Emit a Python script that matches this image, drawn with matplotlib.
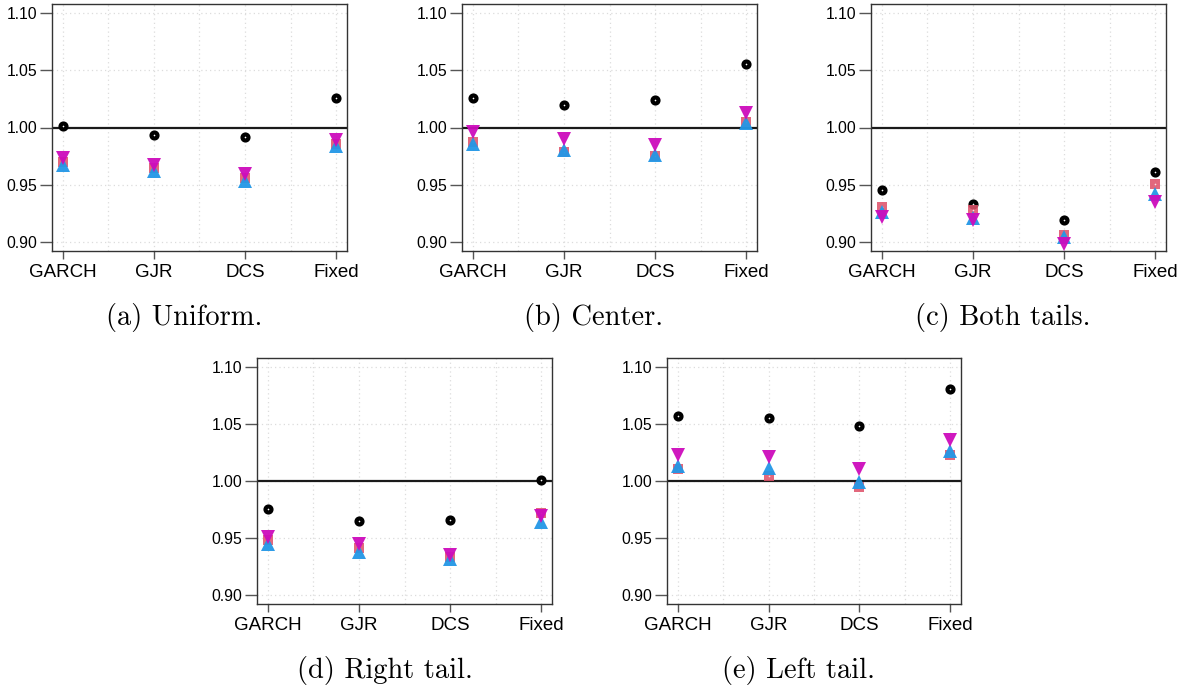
import matplotlib
matplotlib.use("Agg")
import matplotlib.pyplot as plt

W, H = 1186, 690

models = ["GARCH", "GJR", "DCS", "Fixed"]
captions = ["(a) Uniform.", "(b) Center.", "(c) Both tails.", "(d) Right tail.", "(e) Left tail."]

# relative ratio per model, one list per estimator
uniform_black = [1.001, 0.9935, 0.992, 1.026]
uniform_red = [0.970, 0.965, 0.956, 0.986]
uniform_blue = [0.9675, 0.962, 0.953, 0.9835]
uniform_magenta = [0.973, 0.9675, 0.959, 0.989]

center_black = [1.026, 1.020, 1.024, 1.0555]
center_red = [0.987, 0.979, 0.9755, 1.0045]
center_blue = [0.986, 0.980, 0.976, 1.004]
center_magenta = [0.996, 0.990, 0.985, 1.0127]

both_black = [0.945, 0.9335, 0.9195, 0.961]
both_red = [0.9306, 0.9277, 0.906, 0.951]
both_blue = [0.926, 0.921, 0.9044, 0.942]
both_magenta = [0.922, 0.919, 0.8985, 0.935]

right_black = [0.9753, 0.9648, 0.9657, 1.0013]
right_red = [0.948, 0.941, 0.933, 0.9715]
right_blue = [0.9444, 0.9377, 0.9312, 0.964]
right_magenta = [0.9508, 0.9444, 0.935, 0.969]

left_black = [1.0574, 1.0556, 1.0483, 1.0807]
left_red = [1.0107, 1.0042, 0.9946, 1.023]
left_blue = [1.013, 1.011, 0.999, 1.026]
left_magenta = [1.0226, 1.0209, 1.0107, 1.0358]

panels = [
    (uniform_black, uniform_red, uniform_blue, uniform_magenta),
    (center_black, center_red, center_blue, center_magenta),
    (both_black, both_red, both_blue, both_magenta),
    (right_black, right_red, right_blue, right_magenta),
    (left_black, left_red, left_blue, left_magenta),
]

# axes boxes in pixels: left, top, right, bottom
boxes = [
    (52, 4, 347, 251),
    (462, 4, 757, 251),
    (871, 4, 1166, 251),
    (257, 358, 552, 604),
    (667, 358, 961, 604),
]
# caption centre x and baseline y in pixels
cap_pos = [(184, 325), (594, 325), (1003, 325), (385, 678), (799, 678)]

RED = "#DF536B"
BLUE = "#2297E6"
MAG = "#CD0BBC"

fig = plt.figure(figsize=(W / 100, H / 100), dpi=100)

x = [1, 2, 3, 4]
for (l, t, r, b), series, cap, (cx, cy) in zip(boxes, panels, captions, cap_pos):
    ax = fig.add_axes([l / W, 1 - b / H, (r - l) / W, (b - t) / H])
    blk, red, blue, mag = series

    ax.set_xlim(0.88, 4.12)
    ax.set_ylim(0.892, 1.108)

    # light dotted grid
    for gx in [1, 1.5, 2, 2.5, 3, 3.5, 4]:
        ax.axvline(gx, color="#dcdcdc", lw=0.9, ls=(0, (1, 2.5)), zorder=0)
    for gy in [0.90, 0.95, 1.00, 1.05, 1.10]:
        ax.axhline(gy, color="#dcdcdc", lw=0.9, ls=(0, (1, 2.5)), zorder=0)

    ax.axhline(1.0, color="#1a1a1a", lw=1.6, zorder=1)

    ax.plot(x, blk, ls="none", marker="o", ms=4.3, mfc="white", mec="black", mew=3.0, zorder=3)
    ax.plot(x, red, ls="none", marker="s", ms=7.5, color=RED, alpha=0.88, mew=0, zorder=4)
    ax.plot(x, red, ls="none", marker="o", ms=1.2, color="white", mew=0, alpha=0.8, zorder=4)
    ax.plot(x, blue, ls="none", marker="^", ms=9.5, color=BLUE, alpha=0.95, mew=0, zorder=5)
    ax.plot(x, mag, ls="none", marker="v", ms=9.5, color=MAG, alpha=0.95, mew=0, zorder=6)

    ax.set_xticks(x)
    ax.set_xticklabels(models, fontsize=13.5, family="Liberation Sans")
    ax.set_yticks([0.90, 0.95, 1.00, 1.05, 1.10])
    ax.set_yticklabels(["0.90", "0.95", "1.00", "1.05", "1.10"], fontsize=11.3, family="Liberation Sans")
    ax.tick_params(axis="x", length=5.5, width=1, color="#555555", pad=4)
    ax.tick_params(axis="y", length=8.5, width=1, color="#555555", pad=2)
    for s in ax.spines.values():
        s.set_color("#333333")
        s.set_linewidth(1.0)

    fig.text(cx / W, 1 - cy / H, cap, ha="center", va="baseline", fontsize=20.5, family="cmr10")

fig.savefig("out.png", dpi=100)
